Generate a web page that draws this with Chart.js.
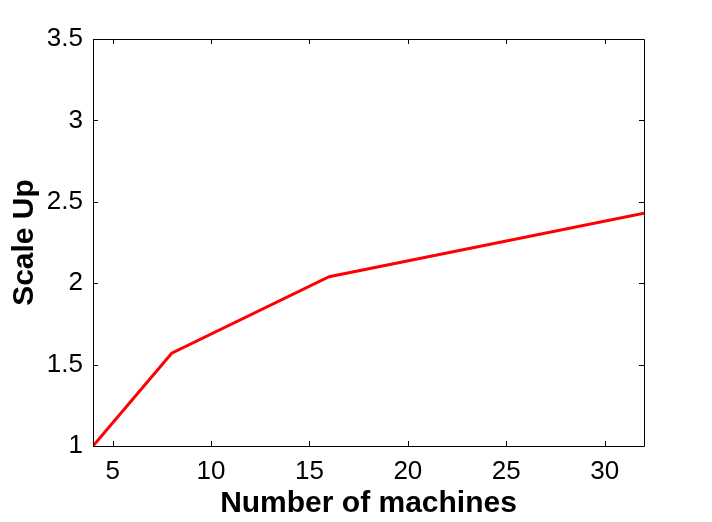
<!DOCTYPE html>
<html>
<head>
<meta charset="utf-8">
<script src="https://cdn.jsdelivr.net/npm/chart.js@4"></script>
<style>
  html, body { margin: 0; padding: 0; background: #fff; }
  #wrap { width: 712px; height: 522px; }
</style>
</head>
<body>
<div id="wrap"><canvas id="scale_up_chart" width="712" height="522"></canvas></div>
<script>
// machines vs scale up
const machines = [4, 8, 16, 32];
const scale_up = [1.0, 1.57, 2.04, 2.43];
const x_ticks = [5, 10, 15, 20, 25, 30];
const y_ticks = [1, 1.5, 2, 2.5, 3, 3.5];

const font_family = '"Liberation Sans", Arial, Helvetica, sans-serif';

// matlab style frame: box plus inward ticks on all four sides
const _p_matlab_box = {
  id: 'matlab_box',
  afterDraw: function (chart) {
    let ctx = chart.ctx, a = chart.chartArea;
    let sx = chart.scales.x, sy = chart.scales.y;
    let tick_len = 5;
    ctx.save();
    ctx.strokeStyle = '#000';
    ctx.lineWidth = 1;
    ctx.beginPath();
    ctx.rect(Math.round(a.left) + 0.5, Math.round(a.top) + 0.5,
      Math.round(a.right - a.left), Math.round(a.bottom - a.top));
    x_ticks.forEach(v => {
      let px = Math.round(sx.getPixelForValue(v)) + 0.5;
      ctx.moveTo(px, a.bottom);
      ctx.lineTo(px, a.bottom - tick_len);
      ctx.moveTo(px, a.top);
      ctx.lineTo(px, a.top + tick_len);
    });
    y_ticks.forEach(v => {
      let py = Math.round(sy.getPixelForValue(v)) + 0.5;
      ctx.moveTo(a.left, py);
      ctx.lineTo(a.left + tick_len, py);
      ctx.moveTo(a.right, py);
      ctx.lineTo(a.right - tick_len, py);
    });
    ctx.stroke();
    ctx.restore();
  }
};

let ctx = document.getElementById('scale_up_chart').getContext('2d');
let chartjs = new Chart(ctx, {
  type: 'line',
  data: {
    datasets: [{
      label: 'Scale Up',
      data: machines.map((m, i) => ({ x: m, y: scale_up[i] })),
      borderColor: '#ff0000',
      borderWidth: 3,
      pointRadius: 0,
      tension: 0,
      fill: false
    }]
  },
  options: {
    responsive: false,
    animation: false,
    layout: {
      padding: { top: 39, right: 68, left: 0, bottom: 0 }
    },
    scales: {
      x: {
        type: 'linear',
        min: 4,
        max: 32,
        afterBuildTicks: function (scale) {
          scale.ticks = x_ticks.map(v => ({ value: v }));
        },
        afterFit: function (scale) { scale.height = 76; },
        grid: { display: false, drawTicks: false },
        border: { display: false },
        ticks: {
          padding: 10,
          color: '#000',
          font: { family: font_family, size: 26 },
          maxRotation: 0,
          callback: v => String(v)
        },
        title: {
          display: true,
          text: 'Number of machines',
          color: '#000',
          font: { family: font_family, size: 30, weight: 'bold' },
          padding: { top: 0, bottom: 0 }
        }
      },
      y: {
        min: 1,
        max: 3.5,
        afterBuildTicks: function (scale) {
          scale.ticks = y_ticks.map(v => ({ value: v }));
        },
        afterFit: function (scale) { scale.width = 93; },
        grid: { display: false, drawTicks: false },
        border: { display: false },
        ticks: {
          padding: 10,
          color: '#000',
          font: { family: font_family, size: 26 },
          callback: v => String(v)
        },
        title: {
          display: true,
          text: 'Scale Up',
          color: '#000',
          font: { family: font_family, size: 30, weight: 'bold' },
          padding: { top: 7, bottom: 0 }
        }
      }
    },
    plugins: {
      legend: { display: false },
      tooltip: { enabled: false },
      title: { display: false }
    }
  },
  plugins: [_p_matlab_box]
});
</script>
</body>
</html>
